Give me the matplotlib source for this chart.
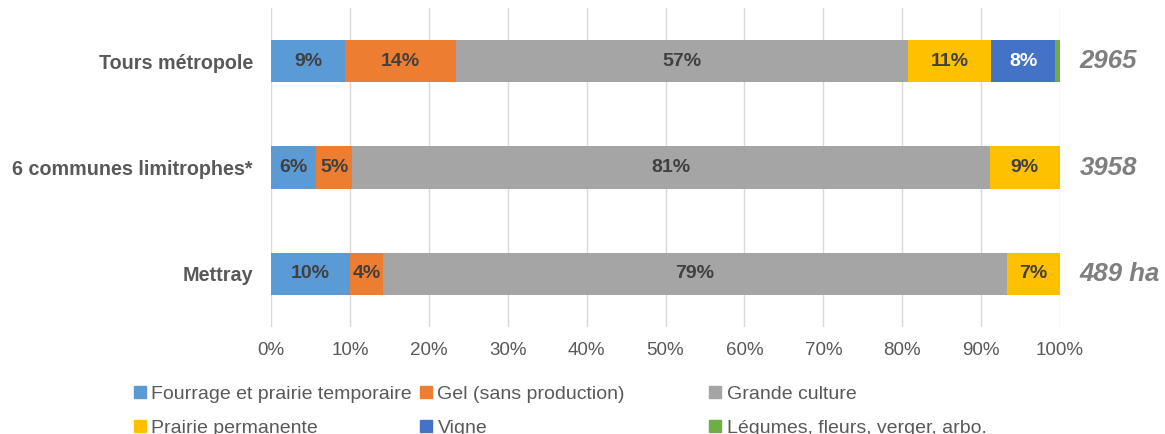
import numpy as np
import matplotlib.pyplot as plt
from matplotlib.patches import Patch

plt.rcParams['font.family'] = ['Liberation Sans', 'DejaVu Sans']

# data (share of farmland, %)
zones = ['Tours métropole', '6 communes limitrophes*', 'Mettray']
totals = ['2965', '3958', '489 ha']
fourrage = [9.4, 5.7, 10.0]
gel = [14.0, 4.6, 4.2]
grande = [57.3, 80.8, 79.1]
prairie = [10.6, 8.9, 6.7]
vigne = [8.1, 0.0, 0.0]
legumes = [0.6, 0.0, 0.0]

series = [
    ('Fourrage et prairie temporaire', fourrage, '#5B9BD5', '#404040'),
    ('Gel (sans production)', gel, '#ED7D31', '#404040'),
    ('Grande culture', grande, '#A5A5A5', '#404040'),
    ('Prairie permanente', prairie, '#FFC000', '#404040'),
    ('Vigne', vigne, '#4472C4', 'white'),
    ('Légumes, fleurs, verger, arbo.', legumes, '#70AD47', '#404040'),
]

fig = plt.figure(figsize=(11.65, 4.34), dpi=100)
ax = fig.add_axes([0.2326, 0.2465, 0.6773, 0.7351])

y = np.arange(len(zones))
left = np.zeros(len(zones))
for name, vals, color, txtcol in series:
    vals = np.array(vals)
    ax.barh(y, vals, left=left, height=0.4, color=color, label=name)
    for yi, (l, v) in enumerate(zip(left, vals)):
        if v >= 3:
            ax.text(l + v / 2, yi, f"{round(v):.0f}%", ha='center', va='center',
                    fontsize=14, fontweight='bold', color=txtcol)
    left += vals

for yi, t in enumerate(totals):
    ax.text(1.025, yi, t, transform=ax.get_yaxis_transform(), ha='left', va='center',
            fontsize=18.5, fontweight='bold', fontstyle='italic', color='#7F7F7F')

ax.set_xlim(0, 100)
ax.set_ylim(2.5, -0.5)
ax.set_xticks(np.arange(0, 101, 10))
ax.set_xticklabels([f"{v}%" for v in range(0, 101, 10)])
ax.set_yticks(y)
ax.set_yticklabels(zones, fontweight='bold')
ax.tick_params(axis='x', length=0, pad=11, labelsize=13.5, labelcolor='#595959')
ax.tick_params(axis='y', length=0, pad=13, labelsize=14.2, labelcolor='#595959')
ax.set_axisbelow(True)
ax.xaxis.grid(True, color='#D9D9D9', linewidth=1)
for s in ax.spines.values():
    s.set_visible(False)

# legend: three columns of equal width, filled row by row
cols_x = [0.115, 0.3605, 0.6086]
for c, x0 in enumerate(cols_x):
    handles = [Patch(color=series[c][2], label=series[c][0]),
               Patch(color=series[c + 3][2], label=series[c + 3][0])]
    fig.legend(handles=handles, loc='upper left', bbox_to_anchor=(x0, 0.1106),
               frameon=False, fontsize=14, labelcolor='#595959', borderpad=0,
               borderaxespad=0, handlelength=0.6, handleheight=0.6,
               handletextpad=0.3, labelspacing=0.85)

fig.savefig('out.png', dpi=100)
